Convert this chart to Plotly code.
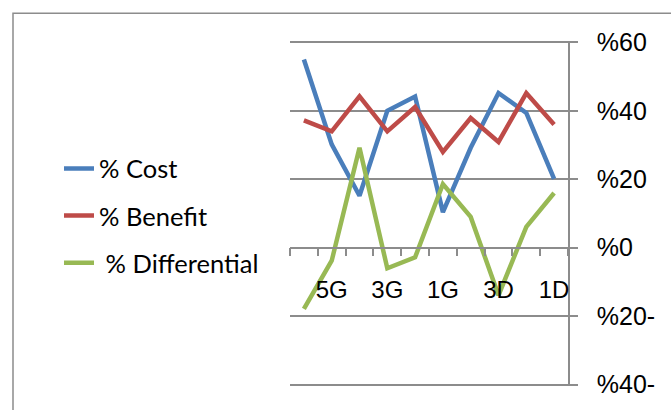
import plotly.graph_objects as go

# Periods along the horizontal axis (only every other one is labelled)
categories = ["6G", "5G", "4G", "3G", "2G", "1G", "4D", "3D", "2D", "1D"]
tick_labels = ["5G", "3G", "1G", "3D", "1D"]

# Series values in percent
cost = [55.0, 30.2, 15.2, 40.0, 44.2, 10.4, 29.2, 45.2, 39.4, 20.1]
benefit = [37.2, 34.0, 44.2, 34.0, 41.1, 28.0, 37.9, 30.9, 45.2, 36.0]
differential = [-17.9, -3.8, 29.2, -6.0, -2.8, 18.6, 9.0, -13.9, 6.1, 16.0]

y_ticks = [-40, -20, 0, 20, 40, 60]
y_tick_text = ["%40-", "%20-", "%0", "%20", "%40", "%60"]

series = [
    ("% Cost", cost, "#4A7EBB"),
    ("% Benefit", benefit, "#BE4B48"),
    ("\u00a0% Differential", differential, "#98B954"),
]

W, H = 671, 410
L, R, T, B = 290, 103, 41, 22
grid = "#8c8c8c"
pw, ph = W - L - R, H - T - B
bottom_px = H - B


def px_to_paper_y(py):
    return (bottom_px - py) / ph


def px_to_paper_x(px):
    return (px - L) / pw


fig = go.Figure()
for i, (name, vals, color) in enumerate(series):
    fig.add_trace(go.Scatter(
        x=categories, y=vals, name=name, mode="lines",
        line=dict(color=color, width=4.5),
        legendgroup=f"g{i}",
    ))

ymin, ymax = -40.4, 60.4
zero_pos = (0 - ymin) / (ymax - ymin)

fig.update_layout(
    width=W, height=H,
    margin=dict(l=L, r=R, t=T, b=B, pad=0),
    paper_bgcolor="white", plot_bgcolor="white",
    showlegend=True,
    legend=dict(
        x=px_to_paper_x(59), y=px_to_paper_y(146),
        xanchor="left", yanchor="top",
        font=dict(family="Lato", size=25.5, color="black"),
        bgcolor="rgba(0,0,0,0)",
        tracegroupgap=11,
    ),
    xaxis=dict(
        type="category", categoryorder="array", categoryarray=categories,
        range=[-0.5, len(categories) - 0.5],
        anchor="free", position=zero_pos,
        showline=True, linecolor=grid, linewidth=1.5,
        ticks="outside", tickson="boundaries", ticklen=8,
        tickcolor=grid, tickwidth=1.5,
        showticklabels=False, showgrid=False, zeroline=False,
        fixedrange=True,
    ),
    xaxis2=dict(
        overlaying="x", anchor="free", position=0.327,
        range=[-0.5, len(categories) - 0.5],
        tickvals=[categories.index(c) for c in tick_labels],
        ticktext=tick_labels,
        showline=False, ticks="", showgrid=False, zeroline=False,
        tickfont=dict(family="Liberation Sans", size=24, color="black"),
    ),
    yaxis=dict(
        side="right", range=[ymin, ymax],
        tickvals=y_ticks, ticktext=y_tick_text,
        showgrid=True, gridcolor=grid, gridwidth=1.5,
        showline=True, linecolor=grid, linewidth=1.5,
        ticks="outside", ticklen=8, tickcolor=grid, tickwidth=1.5,
        ticklabelstandoff=14,
        zeroline=False,
        tickfont=dict(family="Liberation Sans", size=25, color="black"),
    ),
)

# invisible trace so the label axis is drawn
fig.add_trace(go.Scatter(x=[0], y=[0], xaxis="x2", showlegend=False,
                         mode="markers", marker=dict(opacity=0),
                         hoverinfo="skip"))

# outer chart frame
fig.add_shape(type="rect", xref="paper", yref="paper",
              x0=px_to_paper_x(13), x1=px_to_paper_x(W + 20),
              y0=px_to_paper_y(H + 20), y1=px_to_paper_y(13),
              line=dict(color=grid, width=1.5), fillcolor="rgba(0,0,0,0)",
              layer="below")

fig.write_html("out.html")
